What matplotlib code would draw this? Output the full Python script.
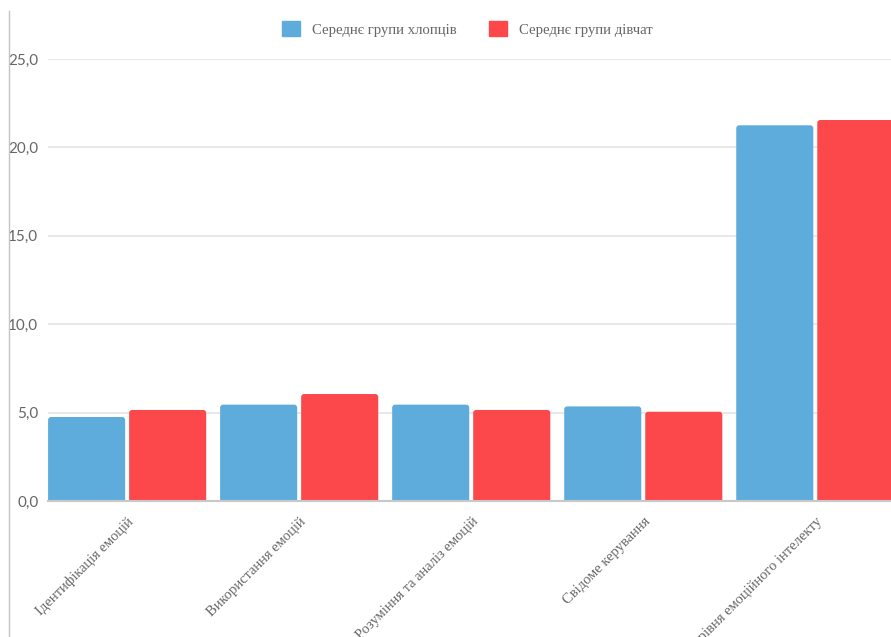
import numpy as np
import matplotlib.pyplot as plt
from matplotlib.lines import Line2D
from matplotlib.patches import Patch, FancyBboxPatch

# Середні показники емоційного інтелекту за групами
categories = ["Ідентифікація емоцій", "Використання емоцій", "Розуміння та аналіз емоцій",
              "Свідоме керування", "Показник рівня емоційного інтелекту"]
boys = [4.75, 5.45, 5.45, 5.35, 21.25]
girls = [5.15, 6.05, 5.15, 5.05, 21.55]
series_names = ["Середнє групи хлопців", "Середнє групи дівчат"]
yticks = [0, 5, 10, 15, 20, 25]

blue = "#5dacdc"
red = "#fc484a"
grey_text = "#666666"

fig = plt.figure(figsize=(8.91, 6.37), dpi=100)
ax = fig.add_axes([48 / 891, 136 / 637, 1 - 48 / 891, (501 - 59) / 637])

x = np.arange(len(categories))
w = 0.448
gap = 0.023
bars1 = ax.bar(x - (w + gap) / 2, boys, width=w, color=blue, zorder=3)
bars2 = ax.bar(x + (w + gap) / 2, girls, width=w, color=red, zorder=3)

ax.set_ylim(0, 25)
ax.set_xlim(-0.46, 4.44)

# заокруглені верхні кути стовпчиків
px_x = 172.0      # пікселів на одиницю по x
px_y = 442 / 25   # пікселів на одиницю по y
r = 3 / px_x
for b in list(bars1) + list(bars2):
    b.set_visible(False)
    fb = FancyBboxPatch((b.get_x(), -0.4), b.get_width(), b.get_height() + 0.4,
                        boxstyle=f"round,pad=0,rounding_size={r}",
                        mutation_aspect=px_x / px_y,
                        facecolor=b.get_facecolor(), edgecolor="none", zorder=3)
    ax.add_patch(fb)

ax.set_yticks(yticks)
ax.set_yticklabels([f"{v:.1f}".replace(".", ",") for v in yticks],
                   fontfamily="Lato", fontsize=11, color=grey_text)
ax.tick_params(axis="y", length=0, pad=7)
ax.grid(axis="y", color="#e4e4e4", linewidth=1.2, zorder=0)

ax.set_xticks(x)
ax.set_xticklabels(categories, rotation=45, ha="right", rotation_mode="anchor",
                   fontfamily="Liberation Serif", fontsize=10.5, color=grey_text)
ax.tick_params(axis="x", length=0, pad=10)

for s in ["top", "right", "left"]:
    ax.spines[s].set_visible(False)
ax.spines["bottom"].set_color("#c8c8c8")
ax.spines["bottom"].set_linewidth(1.5)
ax.spines["bottom"].set_zorder(4)

# тонка вертикальна лінія зліва
fig.add_artist(Line2D([9.3 / 891, 9.3 / 891], [0, 1 - 11 / 637],
                      transform=fig.transFigure, color="#c4c4c4", linewidth=1))

handles = [Patch(facecolor=blue, edgecolor=blue), Patch(facecolor=red, edgecolor=red)]
fig.legend(handles, series_names, loc="center", bbox_to_anchor=(467.5 / 891, 1 - 29 / 637),
           ncol=2, frameon=False, handlelength=1.2, handleheight=1.2,
           handletextpad=0.85, columnspacing=2.2,
           prop={"family": "Liberation Serif", "size": 10.6}, labelcolor=grey_text)

fig.savefig("out.png", dpi=100)
